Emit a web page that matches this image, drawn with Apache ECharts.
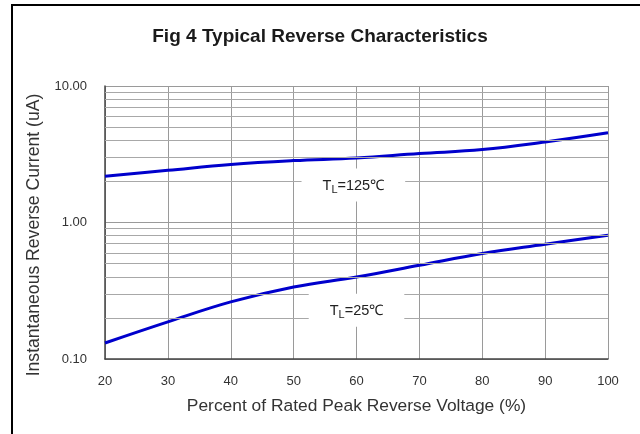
<!DOCTYPE html>
<html>
<head>
<meta charset="utf-8">
<script src="https://cdn.jsdelivr.net/npm/echarts@6/dist/echarts.min.js"></script>
<style>
html,body{margin:0;padding:0;background:#fff;}
#c{width:640px;height:434px;}
</style>
</head>
<body>
<div id="c"></div>
<script>
const percent = [20, 30, 40, 50, 60, 70, 80, 90, 100];
const current125 = [2.18, 2.41, 2.66, 2.84, 2.97, 3.20, 3.42, 3.89, 4.54];
const current25 = [0.131, 0.187, 0.262, 0.337, 0.399, 0.486, 0.593, 0.693, 0.807];
const minorGridValues = [0.2, 0.3, 0.4, 0.5, 0.6, 0.7, 0.8, 0.9, 2, 3, 4, 5, 6, 7, 8, 9];
const labels = [
  { name: '125', x: 59.5, y: 1.88 },
  { name: '25', x: 60, y: 0.228 }
];

const FONT = '"Liberation Sans", Arial, sans-serif';
const chart = echarts.init(document.getElementById('c'));

function pair(xs, ys) { return xs.map((x, i) => [x, ys[i]]); }

const labelRich = {
  t: { fontSize: 14.5, color: '#222', fontFamily: FONT },
  s: { fontSize: 11, color: '#222', fontFamily: FONT, padding: [9, 0, 0, 0] }
};

chart.setOption({
  animation: false,
  backgroundColor: '#fff',
  title: {
    text: 'Fig 4 Typical Reverse Characteristics',
    left: 'center',
    top: 22,
    textStyle: { fontFamily: FONT, fontSize: 19, fontWeight: 'bold', color: '#1a1a1a' }
  },
  graphic: [{
    type: 'polyline',
    shape: { points: [[12, 434], [12, 5], [640, 5]] },
    style: { stroke: '#000', lineWidth: 2, fill: null },
    silent: true
  }],
  grid: { left: 105, right: 32, top: 86, bottom: 75 },
  xAxis: {
    type: 'value',
    min: 20, max: 100, interval: 10,
    name: 'Percent of Rated Peak Reverse Voltage (%)',
    nameLocation: 'middle',
    nameGap: 39,
    nameTextStyle: { fontFamily: FONT, fontSize: 17.4, color: '#333' },
    axisLine: { lineStyle: { color: '#444', width: 1.5 } },
    axisTick: { show: false },
    axisLabel: { fontFamily: FONT, fontSize: 13, color: '#333', margin: 16 },
    splitLine: { show: true, lineStyle: { color: '#9a9a9a', width: 1 } }
  },
  yAxis: {
    type: 'log',
    logBase: 10,
    min: 0.1, max: 10,
    name: 'Instantaneous Reverse Current (uA)',
    nameLocation: 'middle',
    nameGap: 58,
    nameTextStyle: { fontFamily: FONT, fontSize: 17.6, color: '#333', padding: [0, 25, 0, 0] },
    axisLine: { lineStyle: { color: '#444', width: 1.5 } },
    axisTick: { show: false },
    axisLabel: { fontFamily: FONT, fontSize: 13, color: '#333', margin: 18,
      formatter: v => Number(v).toFixed(2) },
    splitLine: { show: true, lineStyle: { color: '#9a9a9a', width: 1 } }
  },
  series: [
    {
      type: 'line',
      data: [],
      z: 1,
      silent: true,
      markLine: {
        silent: true,
        symbol: 'none',
        label: { show: false },
        lineStyle: { color: '#a8a8a8', width: 1, type: 'solid' },
        data: minorGridValues.map(v => ({ yAxis: v }))
      }
    },
    {
      type: 'line',
      name: 'TL=125',
      data: pair(percent, current125),
      smooth: 0.4,
      showSymbol: false,
      z: 3,
      lineStyle: { color: '#0000cc', width: 3 }
    },
    {
      type: 'line',
      name: 'TL=25',
      data: pair(percent, current25),
      smooth: 0.4,
      showSymbol: false,
      z: 3,
      lineStyle: { color: '#0000cc', width: 3 },
      markPoint: {
        symbol: 'circle',
        symbolSize: 0,
        silent: true,
        label: {
          show: true,
          position: 'inside',
          backgroundColor: '#fff',
          padding: [7, 21, 6, 21],
          formatter: p => '{t|T}{s|L}{t|=' + p.name + '℃}',
          rich: labelRich
        },
        data: labels.map(l => ({ name: l.name, coord: [l.x, l.y] }))
      }
    }
  ]
});
</script>
</body>
</html>
